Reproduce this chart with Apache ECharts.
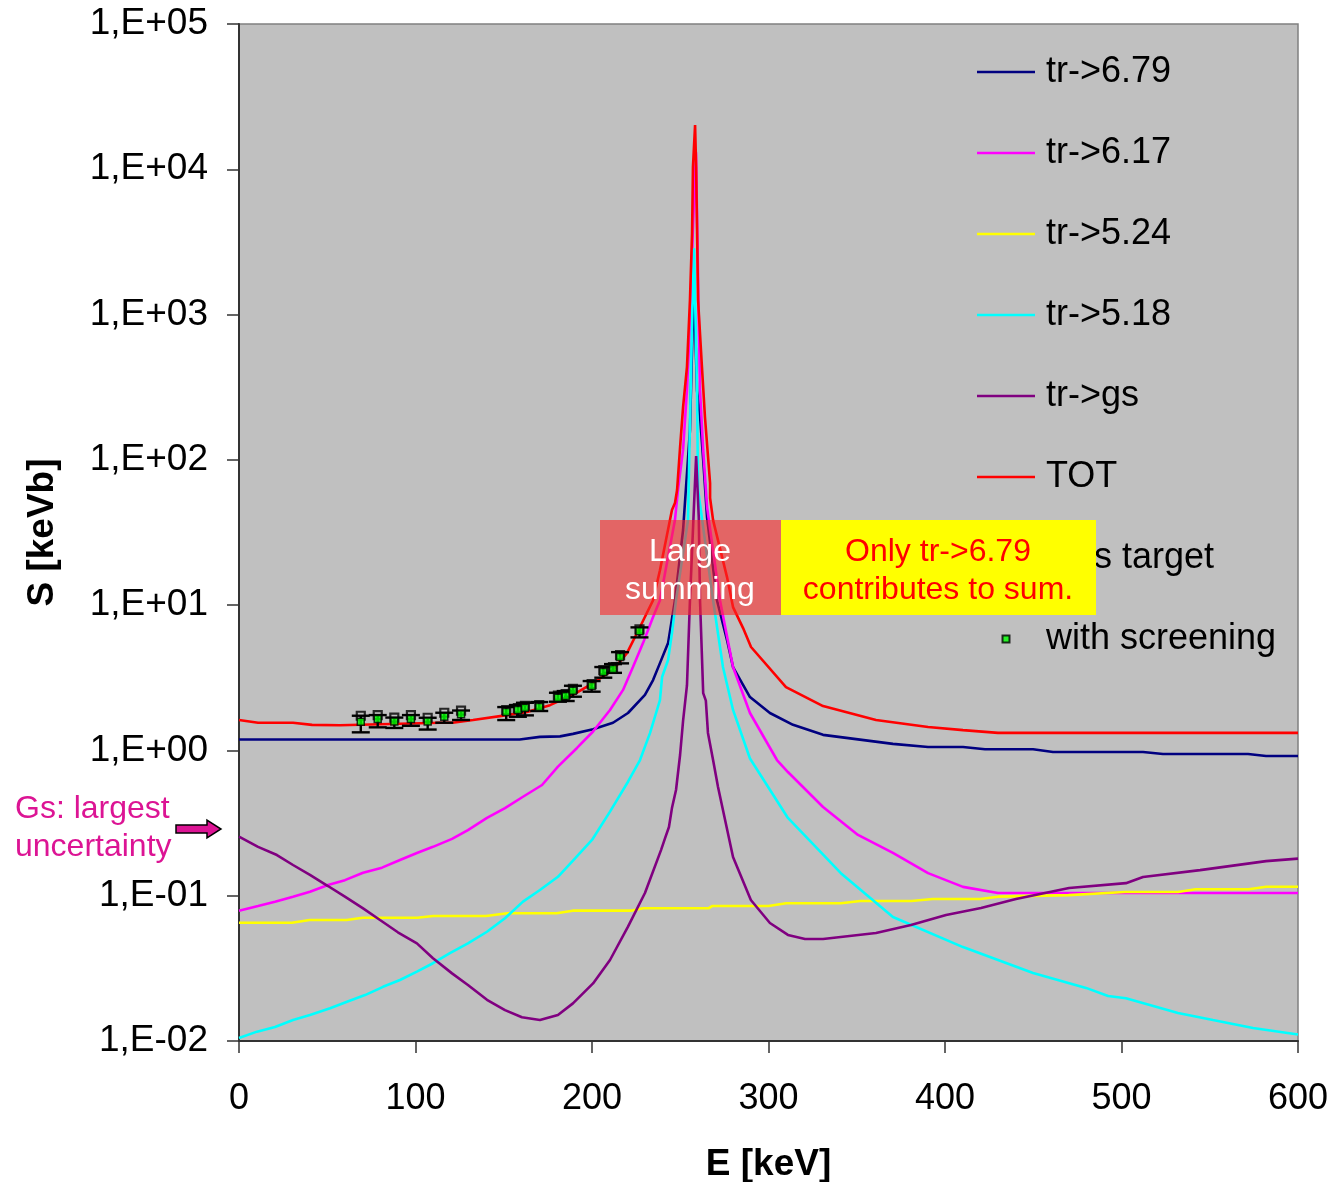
<!DOCTYPE html>
<html><head><meta charset="utf-8">
<script src="https://cdn.jsdelivr.net/npm/echarts@6/dist/echarts.min.js"></script>
<style>html,body{margin:0;padding:0;background:#fff}#c{width:1333px;height:1182px}</style>
</head><body><div id="c"></div>
<script>
const FONT = '"Liberation Sans", Arial, Helvetica, sans-serif';

// ---------- data (E in keV, S in keVb) ----------
const totE = [0,10.8,30.6,41.4,57.2,113.9,121,132.6,151.8,163.2,176.2,189.2,200.6,211.9,219.8,227.2,234.6,238.5,245.3,247,248.2,249.9,251.6,253.8,255.5,256.7,257.2,258.4,259,260.1,262.3,264,266.9,266.9,268.6,276.5,279.9,285.6,290.1,309.9,330.9,360.9,390.4,410.2,430,600];
const totS = [1.62,1.55,1.55,1.50,1.49,1.55,1.55,1.62,1.75,1.84,2.05,2.41,2.91,3.58,4.68,7.07,10.8,17.4,45.1,50.4,62,122,231,435,1259,3640,10360,20150,10360,1259,435,197,69.2,54.6,38.5,15.6,9.7,6.95,5.15,2.73,2.02,1.62,1.45,1.38,1.32,1.32];

const t679E = [0,159,170.5,181.9,189.2,200.6,211.9,220.4,230,234.6,238.5,243.1,247,251.6,255.5,256.7,257.8,259.5,261.2,263,265.2,270.8,276.5,279.9,289.5,300.8,313.9,330.9,370.5,390.4,410.2,422.7,449.9,461.2,512.2,523.5,571.7,581.9,600];
const t679S = [1.19,1.19,1.24,1.25,1.30,1.40,1.55,1.81,2.41,3.05,3.99,5.48,10.8,32.9,160,600,1500,300,200,100,40,10.8,5.75,3.75,2.33,1.81,1.50,1.28,1.11,1.055,1.055,1.02,1.02,0.975,0.975,0.945,0.945,0.915,0.915];

const t617E = [0,10.8,20.4,30.6,40.2,50.4,60,70.3,81,91.2,100.8,109.9,120.7,129.7,140.5,150.7,160.9,171.7,180.7,191.5,200.6,210.2,217.6,223.2,228.9,234.6,238.5,247,248.7,251.6,253.8,255.5,257.2,258.9,261.2,263,265.2,272.5,279.9,289.5,304.8,311,330.9,350.7,370.5,390.4,410.2,430,600];
const t617S = [0.0789,0.0849,0.0910,0.0985,0.1065,0.1185,0.128,0.144,0.156,0.176,0.197,0.217,0.246,0.283,0.343,0.401,0.480,0.578,0.773,1.04,1.35,1.90,2.61,3.75,5.48,8.28,10.8,38.5,62,117,302,873,4000,13100,302,117,47.3,10.8,3.75,1.81,0.859,0.71,0.408,0.262,0.197,0.143,0.115,0.1044,0.1044];

const t524E = [0,30,40,61,70,101,110,140,152,180,189,222,229,266,268,300,310,341,352,381,393,420,430,470,502,532,542,572,582,600];
const t524S = [0.0652,0.0652,0.068,0.068,0.0706,0.0706,0.0725,0.0725,0.0757,0.0757,0.0789,0.0789,0.0819,0.0819,0.0849,0.0849,0.0887,0.0887,0.0919,0.0919,0.0949,0.0949,0.0985,0.101,0.106,0.106,0.1107,0.1107,0.1153,0.1153];

const t518E = [0,10.2,20.4,30.6,40.2,51.6,61.2,71.4,81.6,91.2,100.8,109.9,119.5,129.7,140.5,150.7,160.9,170.5,180.7,190.4,200,210.2,220.4,227.2,232.9,238.5,239.7,243.1,245.3,247.6,254.4,255.5,256.7,257.8,259.5,260.1,268.6,274.2,279.9,289.5,311,341,370.5,410.2,449.9,479.9,492.4,502.5,532,551.8,574.5,600];
const t518S = [0.0105,0.0116,0.0125,0.01395,0.0151,0.0168,0.01865,0.0207,0.0236,0.0263,0.0300,0.0343,0.0402,0.047,0.0565,0.0699,0.091,0.1094,0.135,0.181,0.242,0.379,0.609,0.859,1.32,2.22,3.20,4.19,6.43,10.8,38.5,179,873,2860,302,62,10.8,3.75,1.90,0.88,0.343,0.143,0.0713,0.0443,0.0294,0.0232,0.0204,0.0197,0.0156,0.01395,0.0123,0.0111];

const tgsE = [0,10.8,21.5,30.6,40.2,50.4,60,70.3,79.9,90,100.8,109.9,120.7,129.7,140.5,150.7,160.3,170.5,180.7,189.2,200.6,210.2,220.4,230,239.1,241.4,243.6,245.3,247.6,249.9,251.6,253.8,255.5,257.5,259,260.5,261.2,263,264.5,265.7,268.6,271.4,279.9,290,300.8,311,320.7,330.9,360.9,380.7,400.6,420.4,440.2,470.3,502.5,512.2,544.5,581.9,600];
const tgsS = [0.2547,0.217,0.1905,0.1627,0.139,0.1166,0.0985,0.0819,0.068,0.056,0.047,0.0371,0.0292,0.0243,0.0192,0.0163,0.01456,0.01395,0.0151,0.01816,0.0249,0.0361,0.0612,0.1044,0.206,0.249,0.297,0.401,0.534,0.930,1.6,2.8,10.8,40,106,40,10.8,2.48,2.2,1.32,0.859,0.56,0.1847,0.0934,0.0649,0.0537,0.0504,0.0504,0.0554,0.0629,0.0736,0.0823,0.095,0.113,0.122,0.1345,0.150,0.173,0.180];

// measured points: "Gas target" (open squares) and "with screening" (green squares + error bars)
const expE  = [69.0,78.6,88.0,97.4,106.9,116.3,125.8,151.4,158.0,162.0,170.1,180.7,185.1,189.2,199.8,206.4,211.9,215.9,226.9];
const gasS  = [1.733,1.751,1.683,1.751,1.678,1.817,1.882,1.896,1.958,2.03,2.054,2.38,2.444,2.658,2.864,3.576,3.746,4.53,6.81];
const expS  = [1.576,1.644,1.58,1.644,1.58,1.706,1.772,1.837,1.897,1.967,1.99,2.306,2.368,2.576,2.775,3.465,3.63,4.39,6.60];
const expLo = [1.332,1.442,1.428,1.478,1.392,1.551,1.62,1.618,1.705,1.743,1.868,2.165,2.188,2.342,2.537,3.167,3.42,3.974,6.0];
const expHi = [1.733,1.751,1.683,1.751,1.678,1.817,1.882,1.988,2.053,2.128,2.153,2.495,2.562,2.787,3.003,3.749,3.928,4.75,7.03];

const xTicks = [0,100,200,300,400,500,600];
const seriesNames = ['tr->6.79','tr->6.17','tr->5.24','tr->5.18','tr->gs','TOT'];
const seriesColors = ['#000080','#FF00FF','#FFFF00','#00FFFF','#800080','#FF0000'];

// ---------- chart ----------
const zip = (a,b) => a.map((v,i)=>[v,b[i]]);
const lineData = [zip(t679E,t679S), zip(t617E,t617S), zip(t524E,t524S), zip(t518E,t518S), zip(tgsE,tgsS), zip(totE,totS)];

const chart = echarts.init(document.getElementById('c'), null, {renderer:'canvas'});

const lineSeries = seriesNames.map((n,i)=>({
  name:n, type:'line', data:lineData[i], showSymbol:false, symbol:'none',
  color:seriesColors[i], lineStyle:{color:seriesColors[i], width:2.6}, z:2+i*0.01,
  animation:false, silent:true
}));

const linePath = 'path://M0,0H58V2.5H0Z';
const sqPath = 'path://M0,0H10V10H0Z';
const legendData = seriesNames.map(n=>({name:n, icon:linePath, itemStyle:{borderWidth:0}}));
legendData.push({name:'Gas target', icon:sqPath});
legendData.push({name:'with screening', icon:sqPath});

function expLabel(v){
  const e = Math.round(Math.log10(v));
  const a = Math.abs(e);
  return '1,E' + (e<0?'-':'+') + (a<10?'0':'') + a;
}

const option = {
  backgroundColor:'#ffffff',
  animation:false,
  textStyle:{fontFamily:FONT},
  grid:{left:239, top:24, width:1059, height:1017, containLabel:false, outerBoundsMode:'none',
        show:true, backgroundColor:'#C0C0C0', borderColor:'#808080', borderWidth:1.5},
  xAxis:{
    type:'value', min:0, max:600, interval:100,
    axisLine:{show:true, onZero:false, lineStyle:{color:'#333', width:2}},
    axisTick:{show:true, inside:false, length:12, lineStyle:{color:'#333', width:1.5}},
    axisLabel:{fontSize:36, color:'#000', margin:40, fontFamily:FONT,
      formatter:v=> xTicks.indexOf(v)>=0 ? String(v) : ''},
    splitLine:{show:false},
    name:'E [keV]', nameLocation:'middle', nameGap:105,
    nameTextStyle:{fontSize:37, fontWeight:'bold', color:'#000', fontFamily:FONT}
  },
  yAxis:{
    type:'log', logBase:10, min:0.01, max:100000,
    axisLine:{show:true, onZero:false, lineStyle:{color:'#333', width:2}},
    axisTick:{show:true, inside:false, length:12, lineStyle:{color:'#333', width:1.5}},
    minorTick:{show:false},
    axisLabel:{fontSize:37, color:'#000', margin:31, fontFamily:FONT, formatter:expLabel},
    splitLine:{show:false},
    name:'S [keVb]', nameLocation:'middle', nameGap:178, nameRotate:90,
    nameTextStyle:{fontSize:37, fontWeight:'bold', color:'#000', fontFamily:FONT}
  },
  legend:{
    show:true, orient:'vertical', left:972, top:49,
    itemWidth:58, itemHeight:7, itemGap:45, icon:linePath,
    textStyle:{fontSize:36, color:'#000', fontFamily:FONT, lineHeight:36, padding:[0,0,0,6]},
    data:legendData, selectedMode:false, z:5
  },
  series:[
    ...lineSeries,
    { name:'errbars', type:'custom', z:6, silent:true,
      data: expE.map((e,i)=>[e, expLo[i], expHi[i]]),
      encode:{x:0, y:[1,2]},
      renderItem:(params, api)=>{
        const x = api.value(0);
        const pLo = api.coord([x, api.value(1)]);
        const pHi = api.coord([x, api.value(2)]);
        const w = 9;
        const st = {stroke:'#000', lineWidth:2.4};
        return {type:'group', children:[
          {type:'line', shape:{x1:pLo[0], y1:pLo[1], x2:pHi[0], y2:pHi[1]}, style:st},
          {type:'line', shape:{x1:pLo[0]-w, y1:pLo[1], x2:pLo[0]+w, y2:pLo[1]}, style:st},
          {type:'line', shape:{x1:pHi[0]-w, y1:pHi[1], x2:pHi[0]+w, y2:pHi[1]}, style:st}
        ]};
      }
    },
    { name:'Gas target', type:'scatter', data:zip(expE,gasS), symbol:'rect', symbolSize:8, z:6.5, silent:true,
      itemStyle:{color:'rgba(192,192,192,0)', borderColor:'#000', borderWidth:2.2} },
    { name:'with screening', type:'scatter', data:zip(expE,expS), symbol:'rect', symbolSize:7, z:7, silent:true,
      itemStyle:{color:'#00FF00', borderColor:'#000', borderWidth:1.5} }
  ],
  graphic:[
    {type:'rect', z:100, shape:{x:600, y:520, width:181, height:95}, style:{fill:'rgba(250,40,40,0.6)'}},
    {type:'text', z:101, style:{text:'Large\nsumming', x:690, y:571, font:'32px '+FONT, fill:'#fff', align:'center', verticalAlign:'middle', textAlign:'center', textVerticalAlign:'middle', lineHeight:38}},
    {type:'rect', z:100, shape:{x:781, y:520, width:315, height:95}, style:{fill:'#FFFF00'}},
    {type:'text', z:101, style:{text:'Only tr->6.79\ncontributes to sum.', x:938, y:571, font:'32px '+FONT, fill:'#FF0000', align:'center', verticalAlign:'middle', textAlign:'center', textVerticalAlign:'middle', lineHeight:38}},
    {type:'text', z:101, style:{text:'Gs: largest\nuncertainty', x:15, y:828, font:'32px '+FONT, fill:'#DC1494', align:'left', verticalAlign:'middle', textAlign:'left', textVerticalAlign:'middle', lineHeight:38}},
    {type:'polygon', z:101, shape:{points:[[176,825],[207,825],[207,820],[221,829],[207,838],[207,833],[176,833]]}, style:{fill:'#DC1494', stroke:'#000', lineWidth:1.5}}
  ]
};
chart.setOption(option);
</script></body></html>
